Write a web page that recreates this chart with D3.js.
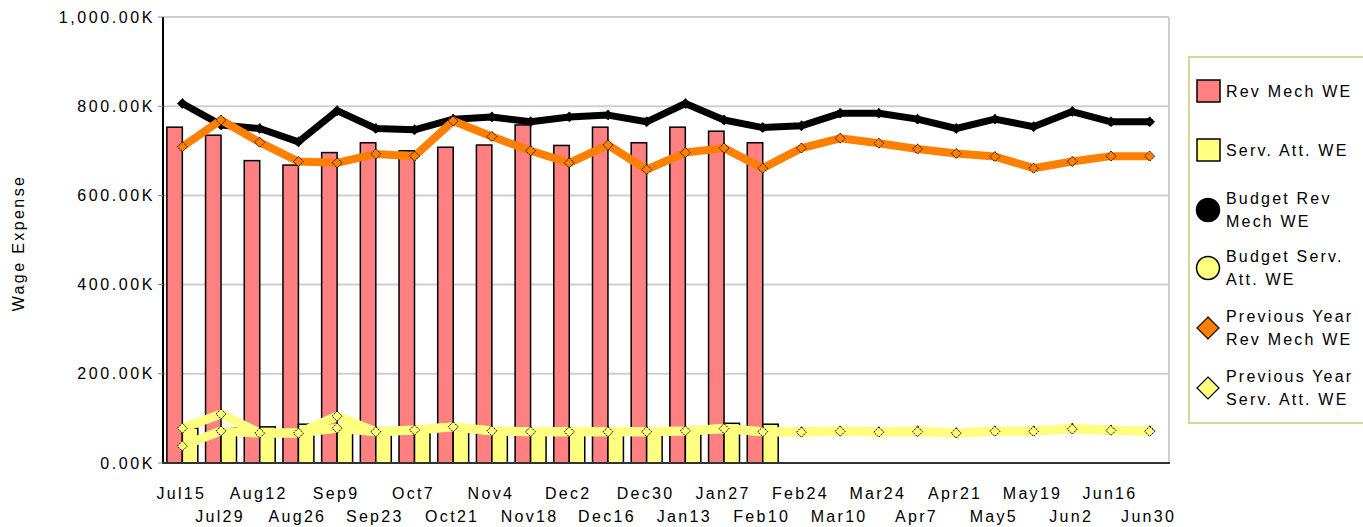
<!DOCTYPE html>
<html>
<head>
<meta charset="utf-8">
<script src="https://cdn.jsdelivr.net/npm/d3@7"></script>
<style>
  html, body { margin: 0; padding: 0; background: #ffffff; }
  svg { display: block; }
  text { font-family: "Liberation Sans", Arial, sans-serif; fill: #000; }
</style>
</head>
<body>
<svg id="chart" width="1363" height="527"></svg>
<script>
// ---------- data ----------
const categories = ["Jul15","Jul29","Aug12","Aug26","Sep9","Sep23","Oct7","Oct21","Nov4","Nov18",
  "Dec2","Dec16","Dec30","Jan13","Jan27","Feb10","Feb24","Mar10","Mar24","Apr7","Apr21","May5",
  "May19","Jun2","Jun16","Jun30"];

// values in thousands
const revMechWE = [753,735,678,668,696,718,700,708,713,758,712,753,718,753,744,718,
  null,null,null,null,null,null,null,null,null,null];
const servAttWE = [78,79,81,87,79,77,76,78,76,75,75,76,74,76,89,87,
  null,null,null,null,null,null,null,null,null,null];
const budgetRevMechWE = [806,758,750,720,790,750,747,771,776,765,776,780,765,806,769,752,
  756,784,784,771,750,771,754,788,765,765];
const budgetServAttWE = [78,110,67,67,105,70,74,81,72,70,70,70,70,72,78,70,
  70,72,70,72,68,72,72,78,74,72];
const prevYearRevMechWE = [709,769,719,676,673,693,688,767,732,700,673,713,658,696,706,661,
  706,728,717,704,694,687,661,676,688,688];
const prevYearServAttWE = [38,72,67,67,78,70,74,81,72,70,70,70,70,72,77,70,
  69,71,69,70,67,71,71,76,73,71];

const yTicks = [0,200,400,600,800,1000];
const yTitle = "Wage Expense";
const legendItems = [
  {lines:["Rev Mech WE"], kind:"rect", fill:"#FF8080"},
  {lines:["Serv. Att. WE"], kind:"rect", fill:"#FFFF80"},
  {lines:["Budget Rev","Mech WE"], kind:"circle", fill:"#000000"},
  {lines:["Budget Serv.","Att. WE"], kind:"circle", fill:"#FFFF80"},
  {lines:["Previous Year","Rev Mech WE"], kind:"diamond", fill:"#FF8000"},
  {lines:["Previous Year","Serv. Att. WE"], kind:"diamond", fill:"#FFFF80"}
];

// ---------- layout ----------
const svg = d3.select("#chart");
const L = 163, R = 1169, T = 17, B = 463;

const x = d3.scaleBand().domain(categories).range([L, R]).paddingInner(0.2).paddingOuter(0.1);
const xc = d => x(d) + x.bandwidth() / 2;
const x1 = d3.scaleBand().domain(["rev","serv"]).range([0, x.bandwidth()]).padding(0);
const y = d3.scaleLinear().domain([0, 1000]).range([B, T]);

const diamond = r => `M0,${-r}L${r},0L0,${r}L${-r},0Z`;

// grid
svg.append("g").selectAll("line").data(yTicks.filter(t => t > 0)).join("line")
  .attr("x1", L).attr("x2", R).attr("y1", d => y(d)).attr("y2", d => y(d))
  .attr("stroke", "#cfcfcf").attr("stroke-width", 2);
// right border
svg.append("line").attr("x1", R).attr("x2", R).attr("y1", T).attr("y2", B)
  .attr("stroke", "#cfcfcf").attr("stroke-width", 2);

// bars
const barG = svg.append("g");
categories.forEach((c, i) => {
  if (revMechWE[i] != null) {
    barG.append("rect").attr("x", x(c) + x1("rev")).attr("width", x1.bandwidth())
      .attr("y", y(revMechWE[i])).attr("height", B - y(revMechWE[i]))
      .attr("fill", "#FF8080").attr("stroke", "#000").attr("stroke-width", 1.5);
  }
  if (servAttWE[i] != null) {
    barG.append("rect").attr("x", x(c) + x1("serv")).attr("width", x1.bandwidth())
      .attr("y", y(servAttWE[i])).attr("height", B - y(servAttWE[i]))
      .attr("fill", "#FFFF80").attr("stroke", "#000").attr("stroke-width", 1.5);
  }
});

// lines
function drawLine(vals, color, width, markerFill) {
  const pts = categories.map((c, i) => [xc(c), vals[i]]).filter(p => p[1] != null);
  const line = d3.line().x(p => p[0]).y(p => y(p[1]));
  svg.append("path").datum(pts).attr("d", line).attr("fill", "none")
    .attr("stroke", color).attr("stroke-width", width).attr("stroke-linejoin", "round");
  svg.append("g").selectAll("path").data(pts).join("path")
    .attr("d", diamond(5)).attr("transform", p => `translate(${p[0]},${y(p[1])})`)
    .attr("fill", markerFill).attr("stroke", "#000").attr("stroke-width", 1)
    .attr("stroke-dasharray", "2,1");
}
drawLine(budgetRevMechWE, "#000000", 7, "#000000");
drawLine(prevYearRevMechWE, "#FF8000", 8, "#FF8000");
drawLine(budgetServAttWE, "#FFFF80", 9, "#FFFF80");
drawLine(prevYearServAttWE, "#FFFF80", 9, "#FFFF80");

// axes
svg.append("line").attr("x1", L).attr("x2", L).attr("y1", T).attr("y2", B + 1)
  .attr("stroke", "#000").attr("stroke-width", 2);
svg.append("line").attr("x1", L).attr("x2", R + 1).attr("y1", B).attr("y2", B)
  .attr("stroke", "#333").attr("stroke-width", 2);

const fmt = d3.format(",.2f");
const yAx = svg.append("g");
yAx.selectAll("line").data(yTicks).join("line")
  .attr("x1", L - 5).attr("x2", L).attr("y1", d => y(d)).attr("y2", d => y(d))
  .attr("stroke", "#888").attr("stroke-width", 1);
yAx.selectAll("text").data(yTicks).join("text")
  .attr("x", 155).attr("y", d => y(d)).attr("dy", "0.35em")
  .attr("text-anchor", "end").style("font-size", "16px").style("letter-spacing", "2.6px")
  .text(d => fmt(d) + "K");

svg.append("text").attr("transform", "translate(24,243) rotate(-90)")
  .attr("text-anchor", "middle").style("font-size", "16px").style("letter-spacing", "2.4px")
  .text(yTitle);

svg.append("g").selectAll("text").data(categories).join("text")
  .attr("x", d => xc(d) - 1).attr("y", (d, i) => i % 2 === 0 ? 499 : 522)
  .attr("text-anchor", "middle").style("font-size", "16px").style("letter-spacing", "2.3px")
  .text(d => d);

// legend
svg.append("rect").attr("x", 1189).attr("y", 57).attr("width", 190).attr("height", 366)
  .attr("fill", "#fff").attr("stroke", "#d6d69c").attr("stroke-width", 2);
const legY = [91, 150, 210, 268, 328, 388];
legendItems.forEach((it, i) => {
  const cy = legY[i];
  const g = svg.append("g");
  if (it.kind === "rect") {
    g.append("rect").attr("x", 1197).attr("y", cy - 11).attr("width", 23).attr("height", 22)
      .attr("fill", it.fill).attr("stroke", "#000").attr("stroke-width", 1.5);
  } else if (it.kind === "circle") {
    g.append("circle").attr("cx", 1208).attr("cy", cy).attr("r", 11.5)
      .attr("fill", it.fill).attr("stroke", "#000").attr("stroke-width", 1.5);
  } else {
    g.append("path").attr("d", diamond(11))
      .attr("transform", `translate(1208,${cy})`)
      .attr("fill", it.fill).attr("stroke", "#000").attr("stroke-width", 1.2);
  }
  const n = it.lines.length;
  it.lines.forEach((t, j) => {
    g.append("text").attr("x", 1226).attr("y", cy + (j - (n - 1) / 2) * 23).attr("dy", "0.35em")
      .style("font-size", "16px").style("letter-spacing", "2.2px").text(t);
  });
});
</script>
</body>
</html>
